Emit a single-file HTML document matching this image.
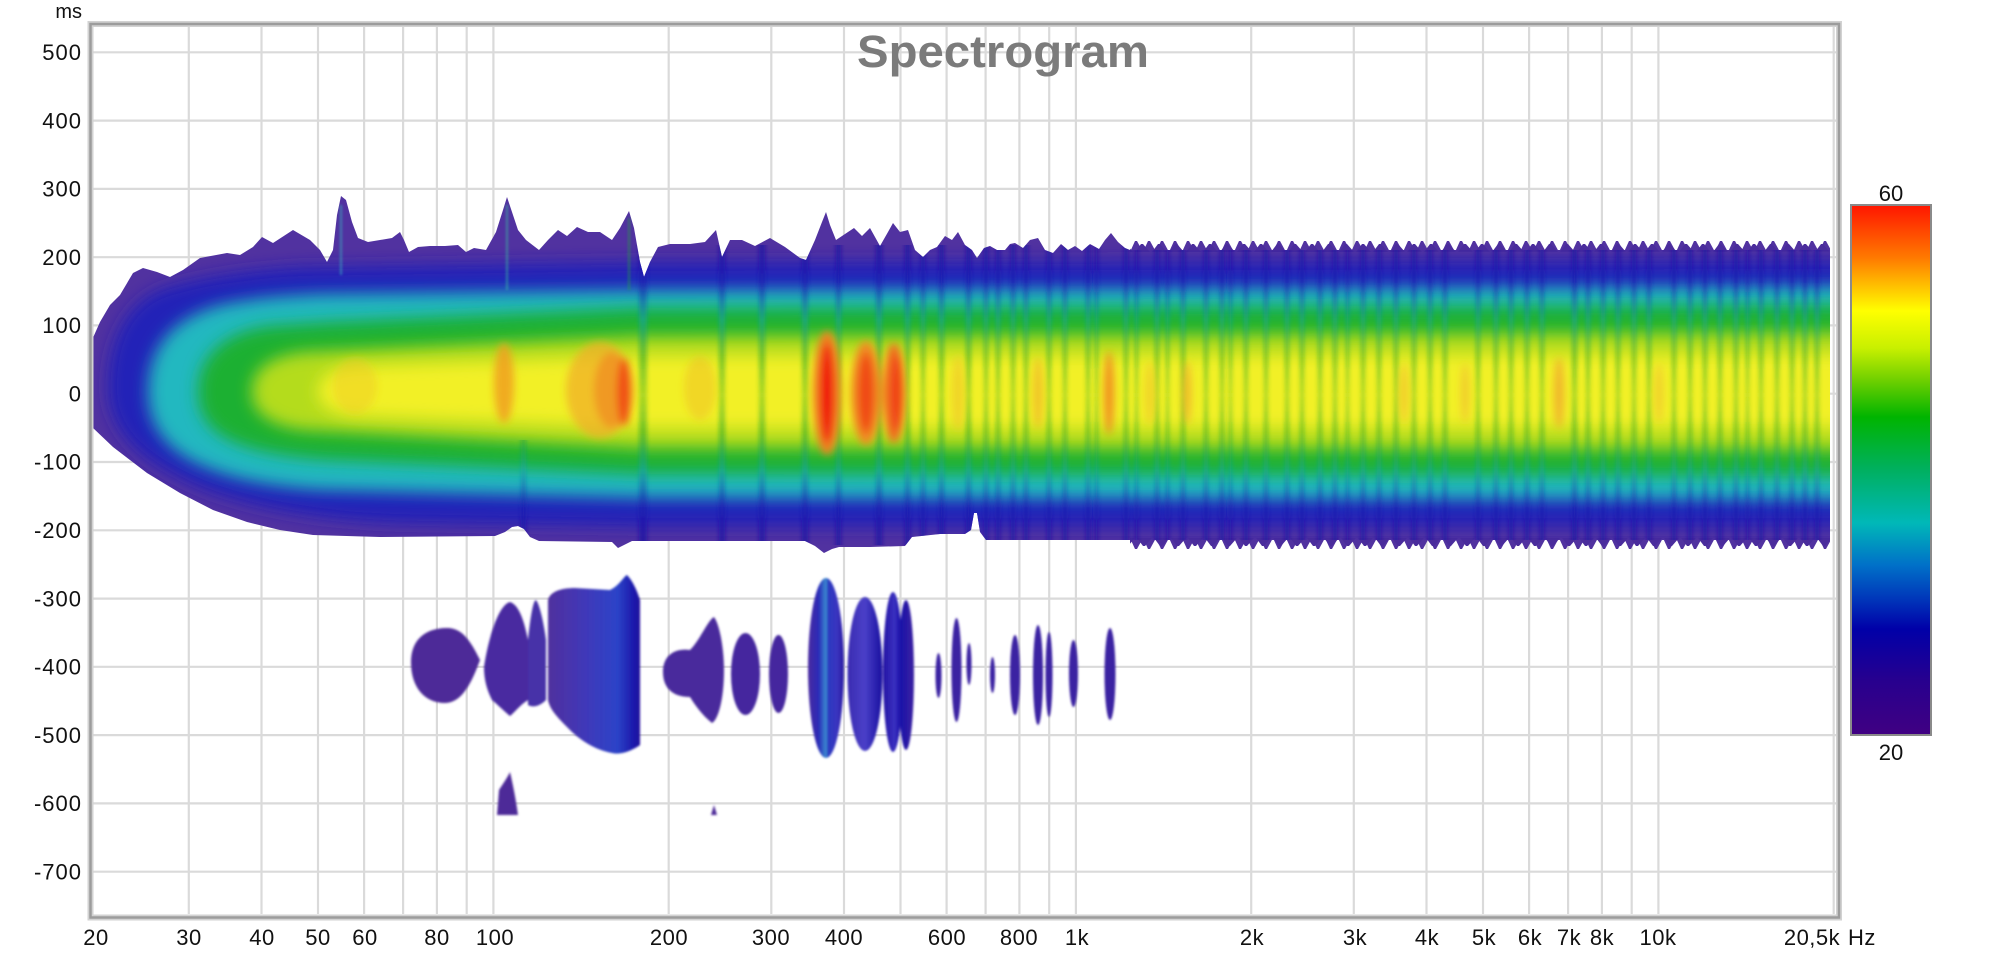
<!DOCTYPE html>
<html><head><meta charset="utf-8"><style>html,body{margin:0;padding:0;background:#fff;}svg{display:block}</style></head>
<body>
<svg width="2000" height="959" viewBox="0 0 2000 959" xmlns="http://www.w3.org/2000/svg" font-family="'Liberation Sans', sans-serif">
<defs>
<clipPath id="plot"><rect x="92" y="26" width="1745" height="889"/></clipPath>
<clipPath id="env"><path id="envp" d="M92,340 L100,322 L110,305 L120,295 L133,273 L143,268 L157,272 L170,277 L183,270 L200,258 L227,253 L240,255 L253,247 L262,237 L273,243 L293,230 L310,240 L320,250 L327,262 L333,250 L337,215 L341,196 L346,200 L352,222 L358,238 L368,242 L380,240 L392,238 L400,232 L404,240 L409,252 L418,247 L430,246 L445,246 L458,245 L466,252 L474,248 L486,250 L496,232 L503,210 L507,197 L512,212 L518,230 L526,240 L539,250 L548,240 L558,230 L567,236 L577,227 L588,232 L600,232 L612,240 L620,228 L629,211 L634,228 L640,262 L644,277 L650,262 L658,247 L670,244 L690,244 L705,242 L716,230 L722,257 L730,240 L742,240 L755,246 L770,238 L785,247 L800,258 L806,260 L815,240 L822,222 L826,212 L830,225 L836,240 L845,234 L854,228 L862,236 L870,228 L880,246 L888,232 L893,223 L900,232 L908,230 L915,250 L923,257 L930,250 L937,247 L945,236 L952,240 L958,232 L965,245 L972,250 L977,258 L984,248 L990,246 L997,250 L1005,250 L1010,244 L1015,243 L1023,248 L1030,240 L1038,238 L1045,250 L1053,253 L1061,244 L1068,250 L1075,246 L1082,251 L1090,244 L1099,249 L1105,240 L1111,233 L1118,242 L1125,248 L1130,250 L1830,250 L1830,540 L986,540 L980,532 L977,513 L974,513 L971,530 L965,534 L940,534 L912,537 L905,546 L870,547 L839,547 L832,549 L824,553 L815,546 L805,541 L632,541 L624,545 L618,548 L612,542 L539,541 L530,537 L524,529 L518,526 L512,527 L505,532 L495,536 L380,537 L313,535 L280,530 L247,522 L213,510 L180,493 L147,473 L113,447 L92,427 Z"/></clipPath>
<filter id="b8" x="-0.2" y="-0.5" width="1.4" height="2"><feGaussianBlur stdDeviation="8"/></filter>
<filter id="b5" x="-0.5" y="-0.5" width="2" height="2"><feGaussianBlur stdDeviation="4"/></filter>
<filter id="bh" x="-0.1" y="-0.1" width="1.2" height="1.2"><feGaussianBlur stdDeviation="2.2 0"/></filter>
<filter id="b1" x="-0.2" y="-0.2" width="1.4" height="1.4"><feGaussianBlur stdDeviation="1"/></filter>
<linearGradient id="cb" x1="0" y1="0" x2="0" y2="1">
<stop offset="0" stop-color="#ff1500"/><stop offset="0.1" stop-color="#ff7a00"/><stop offset="0.2" stop-color="#ffff00"/><stop offset="0.27" stop-color="#c8f000"/><stop offset="0.33" stop-color="#70d000"/><stop offset="0.4" stop-color="#00b400"/><stop offset="0.5" stop-color="#00b060"/><stop offset="0.6" stop-color="#00b8b8"/><stop offset="0.68" stop-color="#0070c8"/><stop offset="0.75" stop-color="#0030b8"/><stop offset="0.8" stop-color="#0000a8"/><stop offset="0.9" stop-color="#28008e"/><stop offset="1" stop-color="#400082"/>
</linearGradient>
<linearGradient id="sg" gradientUnits="userSpaceOnUse" x1="0" y1="245" x2="0" y2="545">
<stop offset="0" stop-color="#1a0fa0" stop-opacity="0.75"/><stop offset="0.12" stop-color="#1a18b0" stop-opacity="0.7"/><stop offset="0.25" stop-color="#10a0b0" stop-opacity="0.55"/><stop offset="0.38" stop-color="#10a020" stop-opacity="0.5"/><stop offset="0.5" stop-color="#40b020" stop-opacity="0.4"/><stop offset="0.62" stop-color="#10a020" stop-opacity="0.5"/><stop offset="0.75" stop-color="#10a0b0" stop-opacity="0.55"/><stop offset="0.88" stop-color="#1a18b0" stop-opacity="0.7"/><stop offset="1" stop-color="#1a0fa0" stop-opacity="0.75"/>
</linearGradient>
<pattern id="tt1" x="1130" y="238" width="13" height="14" patternUnits="userSpaceOnUse"><path d="M0,14 L5,3 L7,3 L13,14 Z" fill="#5132a0"/></pattern>
<pattern id="tt2" x="1134" y="238" width="17" height="14" patternUnits="userSpaceOnUse"><path d="M1,14 L7,6 L9,6 L16,14 Z" fill="#4a2c9c"/></pattern>
<pattern id="tb1" x="1130" y="538" width="13" height="14" patternUnits="userSpaceOnUse"><path d="M0,0 L5,11 L7,11 L13,0 Z" fill="#5132a0"/></pattern>
<pattern id="tb2" x="1136" y="538" width="17" height="14" patternUnits="userSpaceOnUse"><path d="M1,0 L7,8 L9,8 L16,0 Z" fill="#4a2c9c"/></pattern>
<linearGradient id="gD" gradientUnits="userSpaceOnUse" x1="548" y1="0" x2="640" y2="0"><stop offset="0" stop-color="#50309e"/><stop offset="0.4" stop-color="#4038b8"/><stop offset="0.75" stop-color="#2c44c8"/><stop offset="0.95" stop-color="#1a14a8"/><stop offset="1" stop-color="#20109a"/></linearGradient>
<linearGradient id="gH" gradientUnits="userSpaceOnUse" x1="808" y1="0" x2="844" y2="0"><stop offset="0" stop-color="#4a2aa0"/><stop offset="0.3" stop-color="#2a2ab8"/><stop offset="0.5" stop-color="#3a8ad0"/><stop offset="0.56" stop-color="#2a3ac0"/><stop offset="0.8" stop-color="#3a34c0"/><stop offset="1" stop-color="#2a1aa0"/></linearGradient>
<linearGradient id="gI" gradientUnits="userSpaceOnUse" x1="847" y1="0" x2="882" y2="0"><stop offset="0" stop-color="#3a2ab0"/><stop offset="0.5" stop-color="#4a40c8"/><stop offset="1" stop-color="#1a10a0"/></linearGradient>
<linearGradient id="gJ" gradientUnits="userSpaceOnUse" x1="882" y1="0" x2="913" y2="0"><stop offset="0" stop-color="#2010a0"/><stop offset="0.4" stop-color="#3a30c0"/><stop offset="0.6" stop-color="#1a10a8"/><stop offset="1" stop-color="#3a22a2"/></linearGradient>
</defs>

<path d="M93,52.3H1836 M93,120.6H1836 M93,188.9H1836 M93,257.2H1836 M93,325.4H1836 M93,393.7H1836 M93,462H1836 M93,530.3H1836 M93,598.6H1836 M93,666.8H1836 M93,735.1H1836 M93,803.4H1836 M93,871.7H1836" stroke="#dadada" stroke-width="2.2" fill="none"/>
<path d="M188.8,27V914 M261.5,27V914 M318,27V914 M364.1,27V914 M403.1,27V914 M436.9,27V914 M466.7,27V914 M493.4,27V914 M668.7,27V914 M771.3,27V914 M844,27V914 M900.5,27V914 M946.6,27V914 M985.6,27V914 M1019.4,27V914 M1049.2,27V914 M1075.9,27V914 M1251.2,27V914 M1353.8,27V914 M1426.5,27V914 M1483,27V914 M1529.1,27V914 M1568.1,27V914 M1601.9,27V914 M1631.7,27V914 M1658.4,27V914 M1833.7,27V914" stroke="#dadada" stroke-width="2.2" fill="none"/>

<text x="857" y="67" font-size="45" font-weight="bold" fill="#7b7b7b" textLength="292" lengthAdjust="spacingAndGlyphs">Spectrogram</text>

<g clip-path="url(#plot)">
<use href="#envp" fill="#5132a0"/>
<rect x="1130" y="238" width="700" height="14" fill="url(#tt1)"/>
<rect x="1130" y="238" width="700" height="14" fill="url(#tt2)"/>
<rect x="1130" y="538" width="700" height="14" fill="url(#tb1)"/>
<rect x="1130" y="538" width="700" height="14" fill="url(#tb2)"/>
<g clip-path="url(#env)">
<path filter="url(#b8)" fill="#2424b8" d="M108,388 C108,335 130,300 165,288 C205,276 250,270 300,267 L640,262 L1850,260 L1850,527 L640,527 L400,523 C320,521 250,508 200,488 C150,466 108,438 108,388 Z"/>
<path filter="url(#b8)" fill="#22b8c0" d="M148,392 C148,345 175,316 225,304 C255,298 280,296 320,294 L640,290 L1850,286 L1850,500 L640,498 L320,490 C260,486 220,476 190,460 C160,443 148,420 148,392 Z"/>
<path filter="url(#b8)" fill="#1fb030" d="M198,392 C198,355 225,332 270,326 L330,322 L640,308 L1850,305 L1850,476 L640,474 L330,460 C270,456 230,446 212,428 C202,418 198,405 198,392 Z"/>
<path filter="url(#b8)" fill="#b4dc1e" d="M252,392 C252,368 272,356 305,352 L640,336 L1850,332 L1850,450 L640,448 L305,430 C272,426 252,414 252,392 Z"/>
<path filter="url(#b8)" fill="#f2f028" d="M318,392 C318,376 332,368 355,366 L640,356 L1850,354 L1850,428 L640,428 L355,416 C332,414 318,406 318,392 Z"/>
<path filter="url(#bh)" fill="url(#sg)" d="M521,440h5v105h-5z M639,245h8v300h-8z M719,245h6v300h-6z M759,245h6v300h-6z M802,245h6v300h-6z M836,245h5v300h-5z M876,245h6v300h-6z M905,245h5v300h-5z M921,245h4v300h-4z M939,245h5v300h-5z M966,245h5v300h-5z M984,245h4v300h-4z M996,245h4v300h-4z M1011,245h4v300h-4z M1024,245h4v300h-4z M1047,245h4v300h-4z M1063,245h4v300h-4z M1086,245h4v300h-4z M1095,245h3v300h-3z M1124,245h4v300h-4z M1135,245h3v300h-3z M1155,245h4v300h-4z M1166,245h3v300h-3z M1181,245h4v300h-4z M1204,245h4v300h-4z M1220,245h4v300h-4z M1229,245h3v300h-3z M1244,245h4v300h-4z M1264,245h4v300h-4z M1285,245h4v300h-4z M1300,245h4v300h-4z M1318,245h4v300h-4z M1333,245h4v300h-4z M1346,245h3v300h-3z M1361,245h4v300h-4z M1377,245h4v300h-4z M1394,245h4v300h-4z M1412,245h4v300h-4z M1428,245h4v300h-4z M1443,245h4v300h-4z M1476,245h4v300h-4z M1494,245h4v300h-4z M1509,245h4v300h-4z M1525,245h4v300h-4z M1540,245h4v300h-4z M1572,245h5v300h-5z M1586,245h4v300h-4z M1601,245h4v300h-4z M1616,245h4v300h-4z M1632,245h4v300h-4z M1647,245h4v300h-4z M1672,245h4v300h-4z M1688,245h4v300h-4z M1703,245h4v300h-4z M1718,245h4v300h-4z M1734,245h4v300h-4z M1746,245h3v300h-3z M1759,245h4v300h-4z M1775,245h4v300h-4z M1790,245h4v300h-4z M1803,245h4v300h-4z M1815,245h4v300h-4z"/>
<g filter="url(#b1)" fill="none" stroke-opacity="0.45" stroke-width="2.5">
<path d="M341,205 L341,275" stroke="#30b8c0"/>
<path d="M507,205 L507,290" stroke="#38c0a0"/>
<path d="M629,218 L629,290" stroke="#20a040"/>
</g>
<g filter="url(#b5)">
<ellipse cx="355" cy="386" rx="22" ry="28" fill="#f0c820" opacity="0.45"/>
<ellipse cx="504" cy="383" rx="10" ry="40" fill="#f0a020" opacity="0.85"/>
<ellipse cx="600" cy="390" rx="34" ry="48" fill="#f0b028" opacity="0.75"/>
<ellipse cx="612" cy="390" rx="18" ry="38" fill="#f09020" opacity="0.8"/>
<ellipse cx="624" cy="392" rx="7" ry="34" fill="#f05018"/>
<ellipse cx="700" cy="388" rx="16" ry="32" fill="#f0b828" opacity="0.45"/>
<ellipse cx="827" cy="393" rx="14" ry="62" fill="#f08020"/>
<ellipse cx="827" cy="393" rx="7" ry="50" fill="#f01810"/>
<ellipse cx="866" cy="393" rx="15" ry="52" fill="#f08a20"/>
<ellipse cx="866" cy="393" rx="8" ry="40" fill="#f04818"/>
<ellipse cx="894" cy="393" rx="11" ry="50" fill="#f07020"/>
<ellipse cx="896" cy="393" rx="5" ry="38" fill="#f03a18"/>
<ellipse cx="958" cy="393" rx="6" ry="38" fill="#f0c828" opacity="0.7"/>
<ellipse cx="1038" cy="393" rx="5" ry="36" fill="#f0b028" opacity="0.7"/>
<ellipse cx="1109" cy="393" rx="5" ry="42" fill="#f07820" opacity="0.8"/>
<ellipse cx="1150" cy="393" rx="5" ry="32" fill="#f0c828" opacity="0.7"/>
<ellipse cx="1187" cy="393" rx="4" ry="32" fill="#f0a030" opacity="0.7"/>
<ellipse cx="1404" cy="393" rx="4" ry="30" fill="#f0b030" opacity="0.6"/>
<ellipse cx="1465" cy="393" rx="4" ry="30" fill="#f0b030" opacity="0.6"/>
<ellipse cx="1559" cy="393" rx="5" ry="36" fill="#f09a30" opacity="0.7"/>
<ellipse cx="1659" cy="393" rx="4" ry="30" fill="#f0b830" opacity="0.6"/>
</g>
</g>
<g filter="url(#b1)">
<path fill="#4e2c98" d="M411,662 C411,640 425,628 447,628 C462,628 470,640 480,660 C472,682 462,703 445,703 C425,703 411,688 411,662 Z"/>
<path fill="#4a2ca0" d="M484,667 C488,640 498,605 510,602 C520,605 525,625 528,640 L528,700 C520,705 515,712 510,716 C505,712 498,705 492,700 C487,690 484,680 484,667 Z"/>
<path fill="#4630a8" d="M528,640 C530,620 533,600 536,600 C540,605 544,625 546,640 L546,700 C540,706 533,708 528,705 Z"/>
<path fill="url(#gD)" d="M548,600 C550,592 560,588 575,588 L610,590 C620,585 624,576 627,575 C632,580 637,590 640,600 L640,745 C630,752 620,755 612,753 C595,750 580,740 570,730 C558,718 550,710 548,700 Z"/>
<path fill="#4a2c9c" d="M663,672 C663,655 675,648 690,650 C700,640 708,620 714,617 C720,625 724,650 724,670 C724,700 718,720 712,723 C702,715 695,705 690,697 C675,697 663,690 663,672 Z"/>
<ellipse cx="745.5" cy="674" rx="14.5" ry="41" fill="#44289e"/>
<ellipse cx="778.5" cy="674" rx="9.5" ry="39" fill="#44289e"/>
<ellipse cx="826" cy="668" rx="18" ry="90" fill="url(#gH)"/>
<ellipse cx="865" cy="674" rx="17.5" ry="77" fill="url(#gI)"/>
<ellipse cx="893" cy="672" rx="10" ry="80" fill="url(#gJ)"/>
<ellipse cx="906" cy="675" rx="8" ry="75" fill="url(#gJ)"/>
<ellipse cx="938.5" cy="675.5" rx="3" ry="22.5" fill="#3a22a2"/>
<ellipse cx="956.5" cy="670" rx="5" ry="52" fill="#3a22a2"/>
<ellipse cx="969" cy="664" rx="2.5" ry="21" fill="#3a22a2"/>
<ellipse cx="992.5" cy="675" rx="2.5" ry="18" fill="#3a22a2"/>
<ellipse cx="1015" cy="675" rx="5" ry="40" fill="#3a22a2"/>
<ellipse cx="1038" cy="675" rx="5" ry="50" fill="#3a22a2"/>
<ellipse cx="1049" cy="674.5" rx="3.5" ry="42.5" fill="#3a22a2"/>
<ellipse cx="1073.5" cy="673.5" rx="4.5" ry="33.5" fill="#3a22a2"/>
<ellipse cx="1110" cy="674" rx="5.5" ry="46" fill="#3a22a2"/>
<path fill="#4e2c98" d="M497,815 L499,790 C502,785 506,780 510,772 C513,785 516,800 518,815 Z"/>
<path fill="#4e2c98" d="M711,815 L714,805 L717,815 Z"/>
</g>
</g>

<rect x="90.5" y="24" width="1748.5" height="893.5" fill="none" stroke="#d2d2d2" stroke-width="6"/>
<rect x="90.5" y="24" width="1748.5" height="893.5" fill="none" stroke="#9c9c9c" stroke-width="2.5"/>

<g font-size="22" fill="#111" text-anchor="end" letter-spacing="1">
<text x="82" y="18" font-size="20" letter-spacing="0">ms</text>
<text x="82" y="60">500</text>
<text x="82" y="128.3">400</text>
<text x="82" y="196.6">300</text>
<text x="82" y="264.9">200</text>
<text x="82" y="333.1">100</text>
<text x="82" y="401.4">0</text>
<text x="82" y="469.7">-100</text>
<text x="82" y="538">-200</text>
<text x="82" y="606.3">-300</text>
<text x="82" y="674.5">-400</text>
<text x="82" y="742.8">-500</text>
<text x="82" y="811.1">-600</text>
<text x="82" y="879.4">-700</text>
</g>

<g font-size="22" fill="#111" text-anchor="middle" letter-spacing="0.5">
<text x="96" y="945">20</text>
<text x="189" y="945">30</text>
<text x="262" y="945">40</text>
<text x="318" y="945">50</text>
<text x="365" y="945">60</text>
<text x="437" y="945">80</text>
<text x="495" y="945">100</text>
<text x="669" y="945">200</text>
<text x="771" y="945">300</text>
<text x="844" y="945">400</text>
<text x="947" y="945">600</text>
<text x="1019" y="945">800</text>
<text x="1077" y="945">1k</text>
<text x="1252" y="945">2k</text>
<text x="1355" y="945">3k</text>
<text x="1427" y="945">4k</text>
<text x="1484" y="945">5k</text>
<text x="1530" y="945">6k</text>
<text x="1569" y="945">7k</text>
<text x="1602" y="945">8k</text>
<text x="1658" y="945">10k</text>
<text x="1812" y="945">20,5k</text>
<text x="1848" y="945" text-anchor="start">Hz</text>
</g>

<rect x="1851" y="205" width="80" height="530" fill="url(#cb)" stroke="#8a8a8a" stroke-width="2"/>
<g font-size="22" fill="#111" text-anchor="middle">
<text x="1891" y="201">60</text>
<text x="1891" y="760">20</text>
</g>
</svg>
</body></html>
